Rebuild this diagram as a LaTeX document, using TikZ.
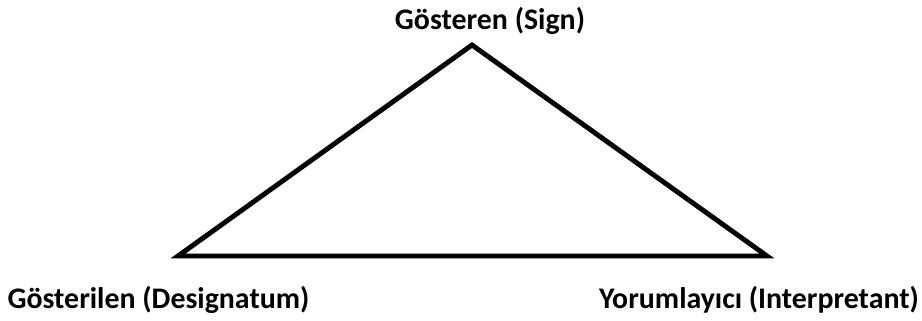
\documentclass[tikz,border=0pt]{standalone}
\usepackage{fontspec}
\setmainfont{Carlito}
\usepackage{tikz}
\usetikzlibrary{positioning}
\tikzset{
  label/.style={font=\fontsize{17}{20}\selectfont\bfseries, inner sep=0pt},
  edge/.style={line width=2.8pt, line join=miter, color=black}
}
\begin{document}
\begin{tikzpicture}
  \useasboundingbox (0,0) rectangle (18.44,6.4);
  % Vertices
  \coordinate (signpt) at (9.44,5.5);
  \coordinate (despt) at (3.56,1.28);
  \coordinate (intpt) at (15.34,1.28);

  % Labels
  \node[label] (sign) at (9.8,5.98) {Gösteren (Sign)};
  \node[label] (designatum) at (3.17,0.4) {Gösterilen (Designatum)};
  \node[label] (interpretant) at (15.18,0.4) {Yorumlayıcı (Interpretant)};

  % Triangle
  \draw[edge] (signpt) -- (despt) -- (intpt) -- cycle;
\end{tikzpicture}
\end{document}
